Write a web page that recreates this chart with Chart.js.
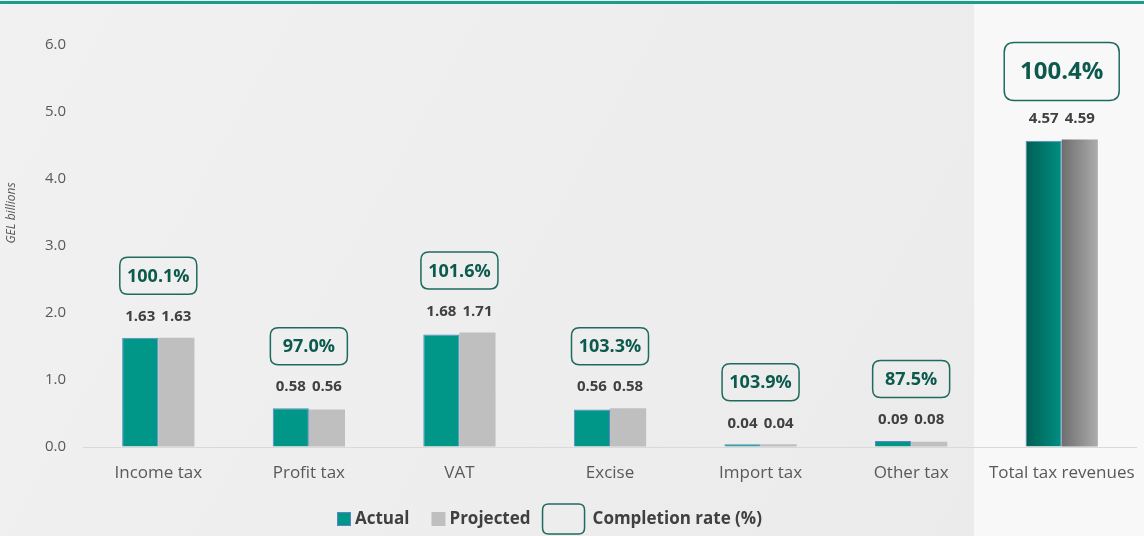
<!DOCTYPE html>
<html><head><meta charset="utf-8">
<script src="https://cdn.jsdelivr.net/npm/chart.js@4.4.1/dist/chart.umd.min.js"></script>
<style>html,body{margin:0;padding:0;background:#f8f8f8}#wrap{width:1144px;height:536px;position:relative}</style>
</head><body><div id="wrap"><canvas id="c" width="1144" height="536"></canvas></div>
<script>
const categories = ['Income tax','Profit tax','VAT','Excise','Import tax','Other tax','Total tax revenues'];
const actual = [1.63, 0.58, 1.68, 0.56, 0.04, 0.09, 4.57];
const projected = [1.63, 0.56, 1.71, 0.58, 0.04, 0.08, 4.59];
const completion = [100.1, 97.0, 101.6, 103.3, 103.9, 87.5, 100.4];
const seriesNames = ['Actual', 'Projected'];
const boxLegendLabel = 'Completion rate (%)';
const axisTitle = 'GEL billions';

const FONT = '"Open Sans", "Noto Sans", sans-serif';
const TEAL = '#009688', GRAY = '#bfbfbf', BOX = '#1e6b5e', BOXTXT = '#0b5a4d', LBL = '#404040', AX = '#595959';
const TOTAL_IDX = categories.length - 1;

function barFill(base, c1, c2, dsIndex) {
  return function(ctx) {
    if (ctx.dataIndex !== TOTAL_IDX) return base;
    const chart = ctx.chart, xs = chart.scales.x;
    if (!xs || !chart.chartArea) return base;
    const cx = xs.getPixelForValue(TOTAL_IDX);
    const bw = (xs.getPixelForValue(1) - xs.getPixelForValue(0)) * 0.48 / 2;
    const x0 = dsIndex === 0 ? cx - bw : cx;
    const g = chart.ctx.createLinearGradient(x0, 0, x0 + bw, 0);
    g.addColorStop(0, c1); g.addColorStop(1, c2);
    return g;
  };
}

function rrect(c, x, y, w, h, r) {
  c.beginPath();
  c.moveTo(x + r, y); c.lineTo(x + w - r, y); c.quadraticCurveTo(x + w, y, x + w, y + r);
  c.lineTo(x + w, y + h - r); c.quadraticCurveTo(x + w, y + h, x + w - r, y + h);
  c.lineTo(x + r, y + h); c.quadraticCurveTo(x, y + h, x, y + h - r);
  c.lineTo(x, y + r); c.quadraticCurveTo(x, y, x + r, y); c.closePath();
}

const overlay = {
  id: 'overlay',
  beforeDraw(chart) {
    const c = chart.ctx, xs = chart.scales.x;
    c.save();
    c.fillStyle = '#f8f8f8'; c.fillRect(0, 0, chart.width, chart.height);
    const step = xs.getPixelForValue(TOTAL_IDX) - xs.getPixelForValue(TOTAL_IDX - 1);
    const split = Math.round(xs.getPixelForValue(TOTAL_IDX) - step * 0.585);
    const g = c.createLinearGradient(0, 0, split, chart.height);
    g.addColorStop(0, '#f1f1f1'); g.addColorStop(1, '#ebebeb');
    c.fillStyle = g; c.fillRect(0, 0, split, chart.height);
    c.fillStyle = '#1c9c8a'; c.fillRect(0, 1, chart.width, 3);
    c.restore();
  },
  afterDatasetsDraw(chart) {
    const c = chart.ctx;
    const m0 = chart.getDatasetMeta(0).data, m1 = chart.getDatasetMeta(1).data;
    c.save();
    c.textAlign = 'center'; c.textBaseline = 'middle';
    for (let i = 0; i < categories.length; i++) {
      const top = Math.min(m0[i].y, m1[i].y);
      const ly = top - 21;
      c.fillStyle = LBL; c.font = 'bold 15px ' + FONT;
      c.fillText(actual[i].toFixed(2), m0[i].x, ly);
      c.fillText(projected[i].toFixed(2), m1[i].x, ly);
      const big = i === TOTAL_IDX;
      const bw = big ? 115 : 77, bh = big ? 58 : 37;
      const cy = ly - (big ? 47 : 41);
      const cx = (m0[i].x + m1[i].x) / 2;
      rrect(c, cx - bw / 2, cy - bh / 2, bw, bh, big ? 10 : 8);
      c.strokeStyle = BOX; c.lineWidth = 1.5; c.stroke();
      c.fillStyle = BOXTXT; c.font = 'bold ' + (big ? 24 : 18) + 'px ' + FONT;
      c.fillText(completion[i].toFixed(1) + '%', cx, cy + 1);
    }
    c.restore();
  },
  afterDraw(chart) {
    const c = chart.ctx;
    c.save();
    c.translate(12, 213); c.rotate(-Math.PI / 2);
    c.fillStyle = AX; c.font = 'italic 12px ' + FONT; c.textAlign = 'center'; c.textBaseline = 'middle';
    c.fillText(axisTitle, 0, 0);
    c.restore();
    c.save();
    c.font = 'bold 17px ' + FONT; c.textBaseline = 'middle'; c.textAlign = 'left';
    const y = 519;
    const w1 = c.measureText(seriesNames[0]).width, w2 = c.measureText(seriesNames[1]).width, w3 = c.measureText(boxLegendLabel).width;
    const total = 14 + 4 + w1 + 22 + 14 + 4 + w2 + 12 + 42 + 8 + w3;
    let x = Math.round(549 - total / 2);
    c.fillStyle = TEAL; c.fillRect(x, y - 7, 14, 14);
    c.strokeStyle = '#5a86c8'; c.lineWidth = 1; c.strokeRect(x + 0.5, y - 6.5, 13, 13);
    x += 18; c.fillStyle = LBL; c.fillText(seriesNames[0], x, y); x += w1 + 22;
    c.fillStyle = GRAY; c.fillRect(x, y - 7, 14, 14);
    x += 18; c.fillStyle = LBL; c.fillText(seriesNames[1], x, y); x += w2 + 12;
    rrect(c, x, y - 15, 42, 30, 6); c.strokeStyle = BOX; c.lineWidth = 1.5; c.stroke();
    x += 50; c.fillStyle = LBL; c.fillText(boxLegendLabel, x, y);
    c.restore();
  }
};

new Chart(document.getElementById('c'), {
  type: 'bar',
  data: {
    labels: categories,
    datasets: [
      { label: seriesNames[0], data: actual, backgroundColor: barFill(TEAL, '#005f53', '#008f82', 0), borderColor: '#5a86c8', borderWidth: 1, categoryPercentage: 0.48, barPercentage: 1.0 },
      { label: seriesNames[1], data: projected, backgroundColor: barFill(GRAY, '#6e6e6e', '#acacac', 1), borderWidth: 0, categoryPercentage: 0.48, barPercentage: 1.0 }
    ]
  },
  options: {
    responsive: false, animation: false, devicePixelRatio: 1,
    layout: { padding: { top: 45, right: 7, left: 0, bottom: 0 } },
    plugins: { legend: { display: false }, tooltip: { enabled: false } },
    scales: {
      x: {
        grid: { display: false, drawTicks: false }, border: { display: false },
        ticks: { color: AX, font: { family: FONT, size: 17 }, padding: 16, maxRotation: 0, autoSkip: false },
        afterFit(s) { s.height = 89; s.paddingLeft = 0; s.paddingRight = 0; }
      },
      y: {
        min: 0, max: 6,
        ticks: { stepSize: 1, color: AX, font: { family: FONT, size: 15 }, padding: 17, callback: v => Number(v).toFixed(1) },
        grid: { drawTicks: false, lineWidth: 1, color: c => (c.tick && c.tick.value === 0) ? '#d9d9d9' : 'rgba(0,0,0,0)' },
        border: { display: false },
        afterFit(s) { s.width = 83; }
      }
    }
  },
  plugins: [overlay]
});
</script></body></html>
